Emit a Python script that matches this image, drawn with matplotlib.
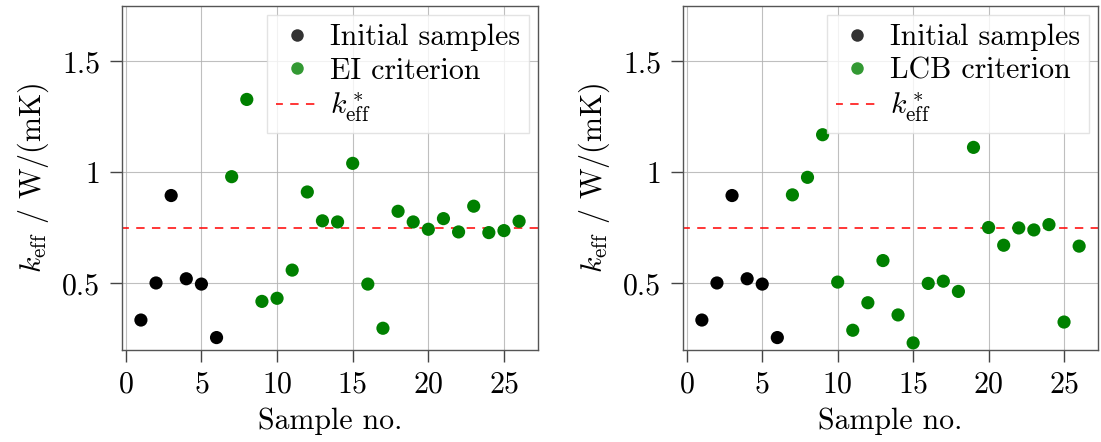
import matplotlib
matplotlib.use("Agg")
import matplotlib.pyplot as plt
from matplotlib.ticker import FuncFormatter
from matplotlib.lines import Line2D

plt.rcParams['font.family'] = 'serif'
plt.rcParams['font.serif'] = ['cmr10', 'DejaVu Serif']
plt.rcParams['mathtext.fontset'] = 'cm'
plt.rcParams['axes.formatter.use_mathtext'] = True
plt.rcParams['font.size'] = 21.5

# Data
sample_no = list(range(1, 27))
initial_n = 6
ei_values = [0.335, 0.502, 0.896, 0.521, 0.497, 0.256,
             0.981, 1.329, 0.419, 0.433, 0.560, 0.912, 0.782, 0.777, 1.041,
             0.497, 0.298, 0.825, 0.777, 0.744, 0.792, 0.732, 0.848, 0.729,
             0.738, 0.780]
lcb_values = [0.335, 0.502, 0.896, 0.521, 0.497, 0.256,
              0.899, 0.978, 1.170, 0.506, 0.289, 0.413, 0.603, 0.358, 0.232,
              0.500, 0.510, 0.464, 1.113, 0.752, 0.672, 0.750, 0.741, 0.765,
              0.326, 0.668]
k_star = 0.75
criteria = ['EI criterion', 'LCB criterion']
y_ticks = [0.5, 1.0, 1.5]
x_ticks = [0, 5, 10, 15, 20, 25]

fig = plt.figure(figsize=(11.01, 4.42), dpi=100)
W, H = 1101, 442
axes = [fig.add_axes([122 / W, 1 - 350 / H, (538 - 122) / W, (350 - 6) / H]),
        fig.add_axes([683 / W, 1 - 350 / H, (1098 - 683) / W, (350 - 6) / H])]

dash = (1.0, (5.5, 4.8))
for ax, vals, crit in zip(axes, [ei_values, lcb_values], criteria):
    ax.set_axisbelow(True)
    ax.grid(True, color='#b0b0b0', linewidth=0.8, alpha=0.8)
    ax.scatter(sample_no[:initial_n], vals[:initial_n], s=90, color='black', zorder=3,
               edgecolors='none')
    ax.scatter(sample_no[initial_n:], vals[initial_n:], s=90, color='green', zorder=3,
               edgecolors='none')
    ax.axhline(k_star, color='red', linestyle=dash, linewidth=1.1, zorder=2)
    ax.set_xlim(-0.25, 27.25)
    ax.set_ylim(0.2, 1.75)
    ax.set_xticks(x_ticks)
    ax.set_yticks(y_ticks)
    ax.yaxis.set_major_formatter(FuncFormatter(lambda v, p: '%g' % v))
    ax.set_xlabel('Sample no.', labelpad=6)
    ax.set_ylabel(r'$k_\mathrm{eff}$ / W/(mK)', labelpad=8)
    ax.tick_params(direction='out', length=8.5, width=1.0, color='#444444',
                   labelcolor='black', pad=7)
    for sp in ax.spines.values():
        sp.set_color('#555555')
        sp.set_linewidth(1.0)
    handles = [
        Line2D([], [], marker='o', linestyle='none', color='black', alpha=0.8, markersize=9,
               markeredgewidth=0),
        Line2D([], [], marker='o', linestyle='none', color='green', alpha=0.8, markersize=9,
               markeredgewidth=0),
        Line2D([], [], color='red', linestyle=dash, linewidth=1.1),
    ]
    labels = ['Initial samples', crit, r'$k^*_\mathrm{eff}$']
    leg = ax.legend(handles, labels, loc='upper right', fancybox=False, framealpha=0.8,
                    edgecolor='#dddddd', borderpad=0.3, labelspacing=0.2, handletextpad=0.4,
                    handlelength=1.4, borderaxespad=0.3)

fig.savefig('out.png', dpi=100)
